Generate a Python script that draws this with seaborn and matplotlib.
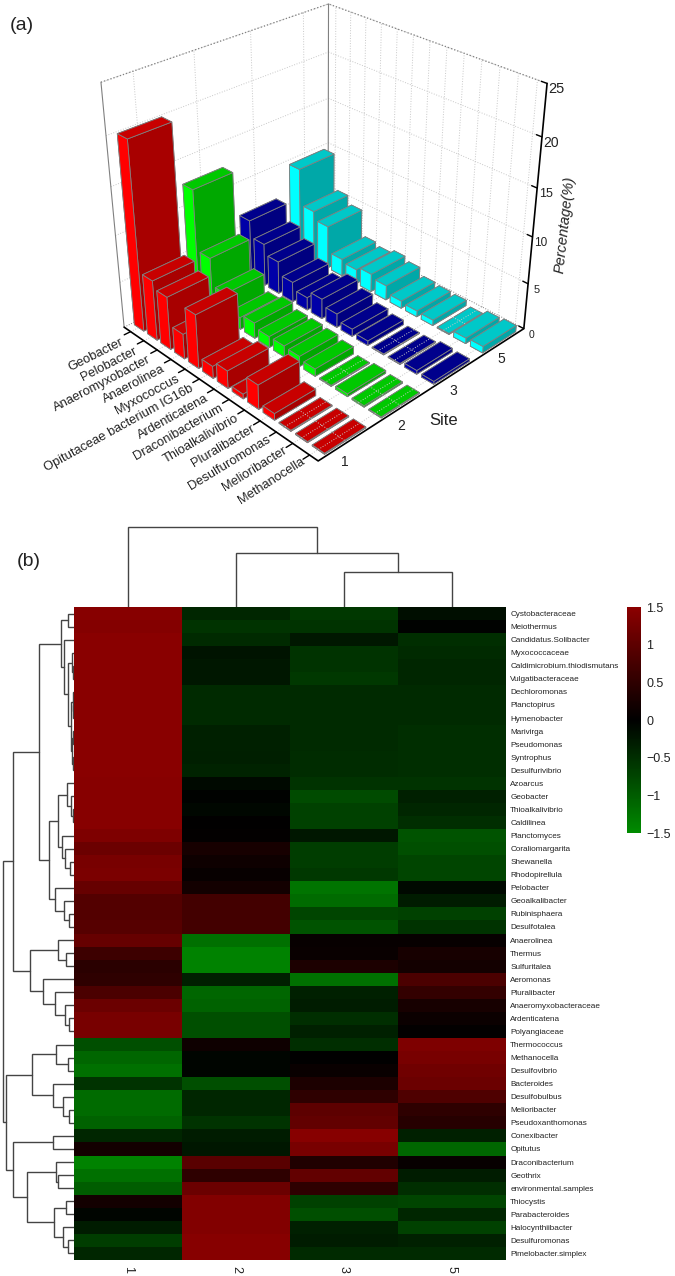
"""
Two panel figure: (a) 3D bars of top genera per site, (b) clustered heatmap.
"""

import numpy as np
import pandas as pd
import seaborn as sns
import matplotlib.pyplot as plt
from matplotlib.colors import LinearSegmentedColormap
from mpl_toolkits.mplot3d import proj3d

sns.set_style("white")
plt.rcParams['font.family'] = ['Liberation Sans', 'DejaVu Sans']

FIG_W, FIG_H = 675, 1276

# panel (a) data
GENERA = ['Geobacter', 'Pelobacter', 'Anaeromyxobacter', 'Anaerolinea', 'Myxococcus',
          'Opitutaceae bacterium IG16b', 'Ardenticatena', 'Draconibacterium',
          'Thioalkalivibrio', 'Pluralibacter', 'Desulfuromonas', 'Melioribacter',
          'Methanocella']
SITES = ['1', '2', '3', '5']
SITE_1 = [20.0, 6.5, 5.7, 2.7, 5.8, 1.3, 1.9, 0.5, 2.6, 0.7, 0.1, 0.1, 0.1]
SITE_2 = [12.5, 6.0, 3.0, 1.3, 1.7, 1.2, 1.2, 1.1, 0.8, 0.1, 0.3, 0.15, 0.1]
SITE_3 = [6.5, 4.7, 3.6, 2.2, 1.4, 2.2, 1.5, 0.8, 0.5, 0.1, 0.1, 0.4, 0.3]
SITE_5 = [9.7, 5.7, 4.8, 1.9, 1.6, 2.0, 1.6, 0.8, 0.65, 0.6, 0.1, 0.6, 0.7]
PCT_TICKS = [0, 5, 10, 15, 20, 25]
PCT_SIZES = [7.5, 8, 8.5, 9, 10, 10.5]

# top, -y side, +x side colours for each site
BAR_COLORS = [('#c80000', '#ff0000', '#a80000'),
              ('#00c800', '#00ff00', '#00a800'),
              ('#00008c', '#0000a8', '#000080'),
              ('#00c8c8', '#00ffff', '#00a8a8')]

# panel (b) data
TAXA = ['Cystobacteraceae', 'Meiothermus', 'Candidatus.Solibacter', 'Myxococcaceae',
        'Caldimicrobium.thiodismutans', 'Vulgatibacteraceae', 'Dechloromonas', 'Planctopirus',
        'Hymenobacter', 'Marivirga', 'Pseudomonas', 'Syntrophus', 'Desulfurivibrio', 'Azoarcus',
        'Geobacter', 'Thioalkalivibrio', 'Caldilinea', 'Planctomyces', 'Coraliomargarita',
        'Shewanella', 'Rhodopirellula', 'Pelobacter', 'Geoalkalibacter', 'Rubinisphaera',
        'Desulfotalea', 'Anaerolinea', 'Thermus', 'Sulfuritalea', 'Aeromonas', 'Pluralibacter',
        'Anaeromyxobacteraceae', 'Ardenticatena', 'Polyangiaceae', 'Thermococcus', 'Methanocella',
        'Desulfovibrio', 'Bacteroides', 'Desulfobulbus', 'Melioribacter', 'Pseudoxanthomonas',
        'Conexibacter', 'Opitutus', 'Draconibacterium', 'Geothrix', 'environmental.samples',
        'Thiocystis', 'Parabacteroides', 'Halocynthiibacter', 'Desulfuromonas',
        'Pimelobacter.simplex']
COL_1 = [1.45, 1.42, 1.47, 1.47, 1.47, 1.47, 1.47, 1.47, 1.47, 1.47, 1.47, 1.47, 1.47, 1.45,
         1.45, 1.45, 1.45, 1.35, 1.15, 1.30, 1.32, 1.10, 0.90, 0.90, 0.92, 1.10, 0.65, 0.45,
         0.50, 0.80, 1.15, 1.30, 1.30, -0.85, -1.10, -1.20, -0.55, -1.15, -1.15, -1.05, -0.40,
         0.20, -1.40, -1.20, -1.00, 0.20, -0.05, -0.30, -0.65, -0.40]
COL_2 = [-0.40, -0.55, -0.45, -0.20, -0.25, -0.25, -0.45, -0.45, -0.45, -0.35, -0.35, -0.33,
         -0.38, -0.10, -0.02, -0.08, 0.00, 0.03, 0.25, 0.15, 0.08, 0.20, 0.72, 0.72, 0.72,
         -1.20, -1.40, -1.40, -0.35, -1.10, -1.05, -0.85, -0.85, 0.15, -0.05, -0.05, -0.85,
         -0.40, -0.40, -0.55, -0.30, -0.25, 0.95, 0.50, 1.15, 1.40, 1.40, 1.40, 1.45, 1.45]
COL_3 = [-0.60, -0.55, -0.25, -0.55, -0.55, -0.60, -0.45, -0.45, -0.45, -0.45, -0.45, -0.47,
         -0.47, -0.55, -0.80, -0.70, -0.70, -0.25, -0.65, -0.65, -0.60, -1.25, -1.15, -0.75,
         -0.90, 0.08, 0.10, 0.30, -1.20, -0.35, -0.30, -0.50, -0.35, -0.50, 0.00, 0.10, 0.30,
         0.50, 1.00, 1.05, 1.45, 1.30, 0.35, 1.05, 0.50, -0.70, -0.85, -0.35, -0.30, -0.45]
COL_5 = [-0.15, -0.02, -0.50, -0.45, -0.40, -0.40, -0.45, -0.45, -0.45, -0.50, -0.50, -0.50,
         -0.50, -0.55, -0.35, -0.40, -0.50, -0.90, -0.85, -0.75, -0.75, -0.10, -0.30, -0.70,
         -0.55, 0.08, 0.25, 0.20, 0.80, 0.55, 0.25, 0.12, 0.03, 1.35, 1.30, 1.20, 1.15, 0.85,
         0.50, 0.40, -0.35, -1.10, 0.08, -0.30, -0.50, -0.75, -0.40, -0.70, -0.35, -0.45]
CBAR_TICKS = [-1.5, -1, -0.5, 0, 0.5, 1, 1.5]
CBAR_LABELS = ['\u22121.5', '\u22121', '\u22120.5', '0', '0.5', '1', '1.5']


def node(height, left, right):
    return (height, left, right)


# row dendrogram, merge heights read in pixels * 3 and leaves are row numbers
ROW_TOP = node(40, node(17, 0, 1), node(29, 2, node(19,
               node(7, 3, node(3, 4, 5)),
               node(10, node(4, 6, node(2, 7, 8)), node(6, node(2, 9, 10), node(2, 11, 12))))))
ROW_MID = node(75,
               node(47, node(20, 13, node(10, 14, node(4, 15, 16))),
                    node(35, 17, node(27, 18, node(12, 19, 20)))),
               node(57, 21, node(30, 22, node(14, 23, 24))))
ROW_LOW = node(132, node(47, 25, node(25, 26, 27)),
               node(92, 28, node(57, 29, node(27, 30, node(15, 31, 32)))))
ROW_A = node(127, node(55, 33, node(17, 34, 35)),
             node(64, 36, node(34, 37, node(14, 38, 39))))
ROW_B = node(184, node(62, 40, 41),
             node(142, node(54, 42, node(47, 43, 44)),
                  node(59, node(25, 45, 46), node(32, 47, node(17, 48, 49)))))
ROW_TREE = node(212, node(184, node(106, ROW_TOP, ROW_MID), ROW_LOW), node(205, ROW_A, ROW_B))
COL_TREE = node(240, 0, node(162, 1, node(105, 2, 3)))


def px_rect(left, top, right, bottom):
    """Convert a pixel box (y down) to a figure rect."""
    return [left / FIG_W, 1 - bottom / FIG_H, (right - left) / FIG_W, (bottom - top) / FIG_H]


def draw_tree(ax, tree, horizontal):
    """Draw a nested merge tree, returns (leaf position, height) of the node."""
    if not isinstance(tree, tuple):
        return tree + 0.5, 0
    height, left, right = tree
    p0, h0 = draw_tree(ax, left, horizontal)
    p1, h1 = draw_tree(ax, right, horizontal)
    pos = [p0, p0, p1, p1]
    hts = [h0, height, height, h1]
    if horizontal:
        ax.plot(hts, pos, color='#444444', lw=1.0, solid_joinstyle='miter')
    else:
        ax.plot(pos, hts, color='#444444', lw=1.0, solid_joinstyle='miter')
    return (p0 + p1) / 2, height


def label3d(ax, x, y, z, text, along=None, **kwargs):
    """Put a flat text at a projected 3D point, optionally turned along a 3D direction."""
    M = ax.get_proj()
    px, py, _ = proj3d.proj_transform(x, y, z, M)
    rotation = 0
    if along is not None:
        qx, qy, _ = proj3d.proj_transform(x + along[0], y + along[1], z + along[2], M)
        rotation = np.degrees(np.arctan2(qy - py, qx - px))
    ax.text2D(px, py, text, transform=ax.transData, rotation=rotation,
              rotation_mode='anchor', color='#222222', zorder=500, **kwargs)


def plot_bars(fig):
    size = 492.1
    left = 323.8 - 0.5135 * size
    bottom = 212.1 + 0.5135 * size
    ax = fig.add_axes(px_rect(left, bottom - size, left + size, bottom), projection='3d', computed_zorder=False)
    ax.set_proj_type('persp', focal_length=0.478)
    ax.view_init(elev=29.73, azim=-44.12)
    ax.set_box_aspect((1.05, 1.069, 1.0))
    ax.set_xlim(0, 13, view_margin=0)
    ax.set_ylim(0, 4, view_margin=0)
    ax.set_zlim(0, 25, view_margin=0)
    ax.set_axis_off()
    ax.patch.set_alpha(0)

    xt = np.arange(len(GENERA)) + 0.5
    yt = np.arange(len(SITES)) + 0.5
    grid = dict(color='#c8c8c8', ls=':', lw=0.7, zorder=2)
    for x in xt:
        ax.plot([x, x], [0, 4], [0, 0], **grid)
        ax.plot([x, x], [4, 4], [0, 25], **grid)
    for y in yt:
        ax.plot([0, 13], [y, y], [0, 0], **grid)
        ax.plot([0, 0], [y, y], [0, 25], **grid)
    for z in PCT_TICKS[1:]:
        ax.plot([0, 0], [0, 4], [z, z], **grid)
        ax.plot([0, 13], [4, 4], [z, z], **grid)

    # wall outline
    edge = dict(color='#808080', lw=0.8, zorder=2)
    ax.plot([0, 0], [0, 0], [0, 25], **edge)
    ax.plot([0, 0], [4, 4], [0, 25], **edge)
    ax.plot([0, 0, 13], [0, 4, 4], [25, 25, 25], color='#808080', ls=':', lw=0.9, zorder=2)
    ax.plot([0, 0, 13], [0, 4, 4], [0, 0, 0], color='#808080', ls=':', lw=0.7, zorder=2)

    # axis lines, ticks and their labels
    axis = dict(color='black', lw=1.2, zorder=500)
    ax.plot([0, 13, 13, 13], [0, 0, 4, 4], [0, 0, 0, 25], **axis)
    n = len(GENERA) - 1
    for i, (x, name) in enumerate(zip(xt, GENERA)):
        ax.plot([x, x], [0, -0.11], [0, 0], color='black', lw=1.0, zorder=500)
        # labels hang a bit lower towards the back corner
        drift = 1 - i / n
        label3d(ax, x + 0.05 + 0.35 * drift, -0.12 - 0.1 * drift, 0, name, along=(0, 1, 0),
                ha='right', va='center', fontsize=9.3)
    for y, name in zip(yt, SITES):
        label3d(ax, 13.8, y - 0.29, 0, name, ha='center', va='center', fontsize=10)
    for z, size_pt in zip(PCT_TICKS, PCT_SIZES):
        ax.plot([13, 12.7], [4, 4], [z, z], color='black', lw=1.0, zorder=500)
        label3d(ax, 13.6, 3.95, z, str(z), ha='center', va='center', fontsize=size_pt)
    label3d(ax, 14.84, 1.67, 0, 'Site', ha='center', va='center', fontsize=12)
    label3d(ax, 14.62, 4, 12.6, 'Percentage(%)', along=(0, 0, 1), style='italic',
            ha='center', va='center', fontsize=10.5)

    # bars, painted from the far back corner forwards
    for s, vals in enumerate([SITE_1, SITE_2, SITE_3, SITE_5]):
        top, side, front = BAR_COLORS[s]
        for i, v in enumerate(vals):
            order = 3 + (3 - s) * 13 + i
            if v <= 0.15:
                order = 1  # flat bars sit below the floor grid
            ax.bar3d(i + 0.17, s + 0.14, 0, 0.72, 0.72, v, shade=False,
                     color=[top, top, side, side, front, front],
                     edgecolor='#808080', linewidth=0.6, zorder=order)


def plot_heatmap(fig):
    df = pd.DataFrame({'1': COL_1, '2': COL_2, '3': COL_3, '5': COL_5}, index=TAXA)
    cmap = LinearSegmentedColormap.from_list('gkr', ['#008b00', '#000000', '#8b0000'])

    ax = fig.add_axes(px_rect(74, 607, 506, 1260))
    cax = fig.add_axes(px_rect(627, 607, 641, 833))
    sns.heatmap(df, ax=ax, cbar_ax=cax, cmap=cmap, vmin=-1.5, vmax=1.5,
                xticklabels=True, yticklabels=True)
    ax.yaxis.tick_right()
    ax.tick_params(axis='y', length=0, pad=3, labelrotation=0, labelsize=5.9, labelcolor='#222222')
    ax.tick_params(axis='x', length=0, pad=4, labelrotation=270, labelsize=9, labelcolor='#222222')

    cax.set_yticks(CBAR_TICKS, CBAR_LABELS)
    cax.tick_params(length=0, pad=4, labelsize=9, labelcolor='#222222')
    for spine in cax.spines.values():
        spine.set_visible(False)

    # row dendrogram, left of the cells
    rax = fig.add_axes(px_rect(0, 607, 74, 1260))
    draw_tree(rax, ROW_TREE, True)
    rax.set_xlim(222, 0)
    rax.set_ylim(len(TAXA), 0)
    rax.axis('off')

    # column dendrogram, above the cells
    cdax = fig.add_axes(px_rect(74, 520, 506, 607))
    draw_tree(cdax, COL_TREE, False)
    cdax.set_xlim(0, 4)
    cdax.set_ylim(0, 261)
    cdax.axis('off')


def main():
    fig = plt.figure(figsize=(FIG_W / 100, FIG_H / 100), dpi=100, facecolor='white')
    plot_bars(fig)
    plot_heatmap(fig)
    fig.text(10 / FIG_W, 1 - 25 / FIG_H, '(a)', fontsize=14, va='center', color='#222222')
    fig.text(17 / FIG_W, 1 - 561 / FIG_H, '(b)', fontsize=14, va='center', color='#222222')
    fig.savefig('out.png', dpi=100, facecolor='white')


if __name__ == "__main__":
    main()
